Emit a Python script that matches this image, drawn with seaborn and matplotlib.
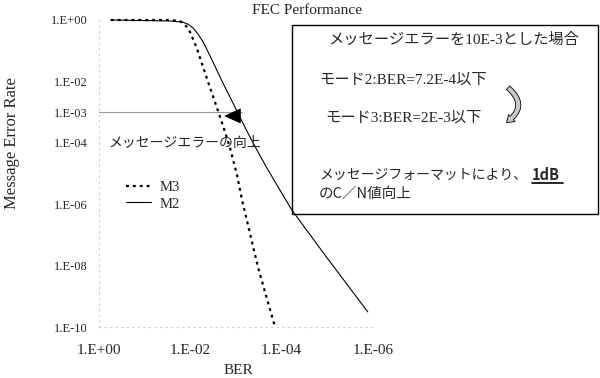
import numpy as np
import pandas as pd
import matplotlib
matplotlib.use("Agg")
import matplotlib.pyplot as plt
from matplotlib.ticker import FixedLocator, FuncFormatter, NullLocator
from matplotlib.patches import Rectangle, FancyArrowPatch
from matplotlib.lines import Line2D
import seaborn as sns

# Values
m2_ber = [5.5e-1, 2.8e-2, 1.45e-2, 1.1e-2, 8.7e-3, 6.8e-3, 5.2e-3, 3.2e-3, 1.95e-3,
          1.17e-3, 9.1e-4, 5.5e-4, 3.5e-4, 2.1e-4, 1.4e-4, 6.0e-5, 1.1e-5, 1.3e-6]
m2_mer = [1.0, 0.93, 0.85, 0.72, 0.55, 0.35, 0.19, 4.3e-2, 9.1e-3,
          2.0e-3, 9.3e-4, 2.1e-4, 5.9e-5, 1.5e-5, 5.4e-6, 6.5e-7, 2.1e-8, 3.1e-10]
m3_ber = [5.5e-1, 2.8e-2, 1.7e-2, 1.45e-2, 1.2e-2, 1.02e-2, 7.2e-3, 5.2e-3, 3.7e-3,
          2.6e-3, 1.95e-3, 1.35e-3, 9.5e-4, 7.4e-4, 3.3e-4, 1.4e-4]
m3_mer = [1.0, 1.0, 0.92, 0.8, 0.6, 0.41, 0.12, 2.8e-2, 6.2e-3,
          1.35e-3, 3.8e-4, 6.8e-5, 8.9e-6, 1.4e-6, 8.9e-9, 1.0e-10]

y_ticks = [1, 1e-2, 1e-3, 1e-4, 1e-6, 1e-8, 1e-10]
x_ticks = [1, 1e-2, 1e-4, 1e-6]

sns.set_style("white")
serif = ["Liberation Serif", "Noto Sans CJK JP"]
cjk = ["Noto Sans CJK JP", "DejaVu Sans"]
plt.rcParams["font.family"] = serif

df2 = pd.DataFrame({"BER": m2_ber, "MER": m2_mer})
df3 = pd.DataFrame({"BER": m3_ber, "MER": m3_mer})

W, H = 600, 378
fig = plt.figure(figsize=(6, 3.78), dpi=100)
ax = fig.add_axes([99 / W, 1 - 327 / H, 274 / W, 307 / H])

# white box behind the curves
box = Rectangle((292 / W, 1 - 214 / H), 306 / W, 189 / H, transform=fig.transFigure,
                facecolor="white", edgecolor="black", lw=1.0, zorder=1, clip_on=False)
ax.add_artist(box)

sns.lineplot(data=df3, x="BER", y="MER", ax=ax, color="black", lw=1.6,
             linestyle=(0, (1.3, 1.8)), label="M3", estimator=None, sort=False)
sns.lineplot(data=df2, x="BER", y="MER", ax=ax, color="black", lw=0.8,
             label="M2", estimator=None, sort=False)
for ln in ax.get_lines():
    ln.set_clip_on(False)
    ln.set_zorder(3)

ax.set_xscale("log")
ax.set_yscale("log")
ax.set_xlim(1, 1e-6)
ax.set_ylim(1e-10, 1)

fmt = FuncFormatter(lambda v, p: "1.E%+03d" % int(round(np.log10(v))))
ax.xaxis.set_major_locator(FixedLocator(x_ticks))
ax.yaxis.set_major_locator(FixedLocator(y_ticks))
ax.xaxis.set_minor_locator(NullLocator())
ax.yaxis.set_minor_locator(NullLocator())
ax.xaxis.set_major_formatter(fmt)
ax.yaxis.set_major_formatter(fmt)
ax.tick_params(axis="x", length=0, pad=12, labelsize=11)
ax.tick_params(axis="y", length=0, pad=8, labelsize=9)

for side in ["top", "right"]:
    ax.spines[side].set_visible(False)
for side in ["left", "bottom"]:
    ax.spines[side].set_color("#cccccc")
    ax.spines[side].set_linestyle((0, (1, 4)))
    ax.spines[side].set_linewidth(0.8)

ax.set_xlabel("BER", fontsize=11)
ax.set_ylabel("Message Error Rate", fontsize=12)
ax.xaxis.set_label_coords(0.51, -0.12)
ax.yaxis.set_label_coords(-0.29, 0.6)

leg = ax.legend(loc="upper left", bbox_to_anchor=(0.05, 0.52), frameon=False,
                fontsize=10.5, handlelength=1.7, handletextpad=0.6, labelspacing=0.25)

# improvement annotation
ax.plot([1, 7.4e-4], [1e-3, 1e-3], color="#999999", lw=0.8, zorder=2)
ax.annotate("", xy=(2.0e-3, 7.5e-4), xytext=(7.6e-4, 7.5e-4),
            arrowprops=dict(arrowstyle="simple,head_width=1.0,head_length=1.1,tail_width=0.3",
                            facecolor="black", edgecolor="black", lw=0.6), zorder=4)
ax.text(0.62, 1e-4, "メッセージエラーの向上", family=cjk, fontsize=10,
        ha="left", va="center", zorder=4)

fig.text(307 / W, 1 - 11 / H, "FEC Performance", ha="center", va="center", fontsize=11)

# box texts
fig.text(328 / W, 1 - 40 / H, "メッセージエラーを10E-3とした場合", family=serif,
         fontsize=11, ha="left", va="center")
fig.text(319 / W, 1 - 80 / H, "モード2:BER=7.2E-4以下", family=serif,
         fontsize=11, ha="left", va="center")
fig.text(325 / W, 1 - 118 / H, "モード3:BER=2E-3以下", family=serif,
         fontsize=11, ha="left", va="center")
fig.text(319 / W, 1 - 175 / H, "メッセージフォーマットにより、", family=cjk,
         fontsize=10, ha="left", va="center")
fig.text(532 / W, 1 - 175 / H, "1dB", family=cjk, fontsize=10.5, fontweight="bold",
         ha="left", va="center")
fig.add_artist(Line2D([532 / W, 563 / W], [1 - 183 / H, 1 - 183 / H],
                      transform=fig.transFigure, color="black", lw=1.2))
fig.text(319 / W, 1 - 194 / H, "のC／N値向上", family=cjk, fontsize=10.5,
         ha="left", va="center")

curl = FancyArrowPatch((506 / W, 1 - 86 / H), (504 / W, 1 - 124 / H),
                       transform=fig.transFigure,
                       connectionstyle="arc3,rad=-0.7",
                       arrowstyle="simple,head_width=7,head_length=5,tail_width=3.5",
                       facecolor="#c8c8c8", edgecolor="black", lw=0.6)
fig.add_artist(curl)

fig.savefig("out.png", dpi=100)
